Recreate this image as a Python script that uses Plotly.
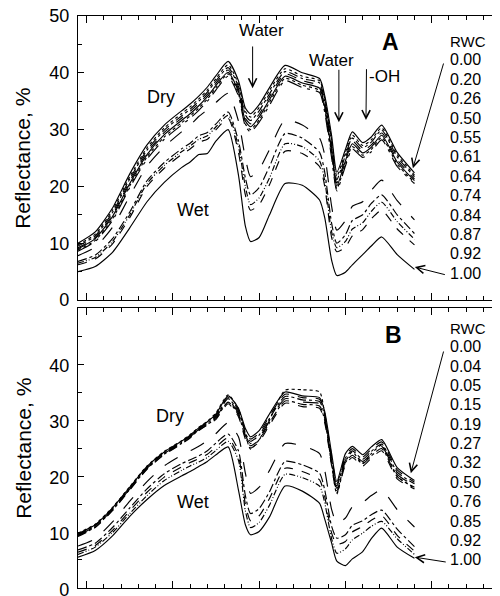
import plotly.graph_objects as go

# ---------------- data ----------------
wavelength_nm = [450, 550, 650, 750, 850, 950, 1050, 1100, 1150, 1200, 1250, 1320, 1380, 1420, 1450,
                 1500, 1560, 1650, 1750, 1850, 1880, 1920, 1950, 2000, 2040, 2100, 2150, 2210, 2300, 2400]

rwc_a_labels = ["0.00", "0.20", "0.26", "0.50", "0.55", "0.61", "0.64", "0.74", "0.84", "0.87", "0.92", "1.00"]
rwc_b_labels = ["0.00", "0.04", "0.05", "0.15", "0.19", "0.27", "0.32", "0.50", "0.76", "0.85", "0.92", "1.00"]

# Panel A reflectance (%)
a_000 = [10.0, 12.0, 16.2, 22.2, 27.3, 30.8, 33.3, 34.5, 35.9, 37.5, 39.5, 42.0, 38.6, 33.8, 32.8, 34.4, 37.4, 41.3, 40.0, 39.0, 36.0, 28.9, 22.5, 26.5, 29.6, 27.7, 28.7, 30.8, 26.0, 22.4]
a_020 = [9.7, 11.6, 15.8, 21.7, 26.8, 30.3, 32.8, 34.0, 35.4, 37.0, 39.0, 41.4, 38.0, 33.2, 32.2, 33.9, 36.9, 40.7, 39.4, 38.6, 35.5, 28.2, 21.8, 26.0, 29.0, 27.2, 28.2, 30.3, 25.6, 22.0]
a_026 = [9.5, 11.3, 15.4, 21.3, 26.4, 29.9, 32.4, 33.6, 35.0, 36.6, 38.6, 40.9, 37.6, 32.6, 31.6, 33.3, 36.3, 40.2, 39.0, 38.2, 35.0, 27.5, 21.2, 25.5, 28.5, 26.8, 27.8, 29.9, 25.2, 21.7]
a_050 = [9.2, 11.0, 15.0, 20.9, 26.0, 29.5, 32.0, 33.2, 34.6, 36.2, 38.2, 40.5, 37.1, 32.0, 31.0, 32.7, 35.8, 39.8, 38.6, 37.7, 34.5, 26.8, 20.6, 25.0, 28.0, 26.3, 27.3, 29.4, 24.7, 21.3]
a_055 = [9.0, 10.8, 14.7, 20.5, 25.6, 29.1, 31.6, 32.8, 34.2, 35.8, 37.8, 40.1, 36.7, 31.5, 30.5, 32.2, 35.3, 39.4, 38.2, 37.3, 34.0, 26.2, 20.1, 24.5, 27.5, 25.9, 26.9, 29.0, 24.3, 21.0]
a_061 = [8.8, 10.5, 14.3, 20.1, 25.2, 28.7, 31.2, 32.4, 33.8, 35.4, 37.4, 39.8, 36.3, 31.0, 30.0, 31.7, 34.8, 39.0, 37.8, 36.9, 33.5, 25.6, 19.6, 24.0, 27.0, 25.5, 26.5, 28.6, 23.9, 20.7]
a_064 = [8.6, 10.3, 14.0, 19.8, 24.8, 28.3, 30.8, 32.0, 33.4, 35.0, 37.0, 39.4, 35.9, 30.6, 29.6, 31.3, 34.3, 38.6, 37.4, 36.5, 33.0, 25.0, 19.2, 23.6, 26.6, 25.1, 26.1, 28.2, 23.5, 20.5]
a_074 = [7.8, 9.3, 12.8, 18.3, 23.6, 27.0, 29.6, 30.8, 32.3, 33.5, 34.8, 36.4, 31.5, 25.0, 21.7, 23.0, 26.5, 31.7, 30.8, 28.5, 25.5, 16.5, 12.3, 14.0, 16.5, 17.3, 19.3, 21.1, 17.5, 14.1]
a_084 = [6.8, 7.9, 10.8, 15.5, 21.0, 24.2, 26.6, 27.6, 28.9, 29.5, 31.0, 33.1, 28.0, 21.5, 18.5, 19.8, 23.5, 29.3, 28.5, 26.0, 22.5, 13.5, 10.0, 11.5, 14.0, 15.0, 17.0, 18.5, 15.0, 11.7]
a_087 = [6.5, 7.5, 10.3, 15.0, 20.5, 23.7, 26.1, 27.1, 28.3, 28.9, 30.5, 32.5, 27.0, 20.0, 16.8, 18.0, 21.5, 27.5, 27.0, 24.5, 21.0, 12.0, 9.2, 10.3, 12.5, 13.6, 15.6, 17.2, 13.8, 10.7]
a_092 = [6.2, 7.2, 9.9, 14.5, 20.0, 23.2, 25.6, 26.6, 27.8, 28.3, 30.0, 32.0, 26.0, 18.5, 15.8, 16.8, 20.3, 26.2, 25.8, 23.5, 20.0, 11.0, 8.5, 9.3, 11.3, 12.4, 14.3, 15.8, 12.5, 9.7]
a_100 = [5.0, 5.9, 8.4, 12.7, 17.3, 20.7, 23.3, 24.3, 25.6, 25.8, 28.0, 30.0, 22.0, 13.0, 10.3, 11.0, 15.0, 20.5, 20.2, 17.6, 14.5, 7.0, 4.3, 4.9, 6.2, 8.0, 9.5, 11.1, 8.0, 5.4]

# Panel B reflectance (%)
b_000 = [9.7, 11.3, 14.3, 18.0, 21.7, 24.3, 26.2, 27.3, 28.6, 29.7, 31.1, 34.3, 32.1, 28.5, 27.0, 28.1, 31.1, 35.0, 34.3, 34.0, 31.5, 24.0, 19.0, 24.0, 25.3, 23.8, 25.2, 26.5, 21.5, 19.2]
b_004 = [9.6, 11.2, 14.2, 17.9, 21.6, 24.2, 26.1, 27.2, 28.5, 29.5, 30.9, 34.0, 31.8, 28.1, 26.6, 27.7, 30.7, 34.6, 34.0, 33.7, 31.1, 23.5, 18.6, 23.6, 24.9, 23.4, 24.8, 26.1, 21.1, 18.9]
b_005 = [9.5, 11.1, 14.1, 17.8, 21.5, 24.1, 26.0, 27.1, 28.4, 29.4, 30.7, 33.8, 31.5, 27.7, 26.2, 27.3, 30.3, 34.2, 33.6, 33.3, 30.7, 23.0, 18.2, 23.2, 24.5, 23.0, 24.4, 25.7, 20.7, 18.6]
b_015 = [9.8, 11.4, 14.4, 18.1, 21.8, 24.4, 26.3, 27.4, 28.7, 29.8, 31.3, 34.5, 32.0, 27.5, 24.8, 26.5, 30.0, 35.3, 35.4, 35.0, 31.0, 22.0, 16.8, 22.5, 24.3, 22.3, 24.0, 25.5, 20.0, 17.8]
b_019 = [9.4, 11.0, 14.0, 17.7, 21.4, 24.0, 25.9, 27.0, 28.3, 29.3, 30.5, 33.5, 31.2, 27.3, 25.8, 26.9, 29.9, 33.8, 33.2, 32.9, 30.3, 22.6, 17.8, 22.8, 24.1, 22.6, 24.0, 25.3, 20.3, 18.3]
b_027 = [9.3, 10.9, 13.9, 17.6, 21.3, 23.9, 25.8, 26.9, 28.2, 29.2, 30.3, 33.2, 30.9, 27.0, 25.4, 26.5, 29.5, 33.4, 32.8, 32.5, 29.9, 22.2, 17.4, 22.4, 23.7, 22.2, 23.6, 24.9, 19.9, 18.0]
b_032 = [9.2, 10.8, 13.8, 17.5, 21.2, 23.8, 25.7, 26.8, 28.1, 29.1, 30.1, 32.9, 30.6, 26.6, 25.0, 26.1, 29.1, 33.0, 32.4, 32.1, 29.5, 21.8, 17.0, 22.0, 23.3, 21.8, 23.2, 24.5, 19.5, 17.7]
b_050 = [7.5, 8.8, 11.8, 15.5, 19.0, 21.8, 23.7, 24.5, 25.3, 26.3, 27.6, 29.5, 27.0, 20.5, 16.9, 18.0, 21.0, 25.8, 25.4, 24.0, 21.0, 14.0, 11.6, 12.5, 14.5, 15.3, 16.5, 17.5, 14.0, 10.9]
b_076 = [6.8, 8.0, 10.8, 14.3, 17.7, 20.4, 22.2, 22.9, 23.6, 24.5, 25.9, 27.5, 24.5, 16.5, 13.3, 14.2, 17.2, 22.6, 22.0, 20.5, 17.5, 11.0, 8.9, 9.5, 11.2, 12.0, 13.1, 13.9, 10.5, 7.4]
b_085 = [6.4, 7.6, 10.3, 13.8, 17.1, 19.8, 21.6, 22.4, 23.1, 23.9, 25.2, 26.8, 23.6, 15.0, 12.0, 12.9, 16.0, 21.4, 20.8, 19.3, 16.3, 9.8, 7.8, 8.3, 10.0, 11.0, 12.1, 12.9, 9.4, 6.6]
b_092 = [6.0, 7.3, 9.9, 13.3, 16.5, 19.2, 21.0, 21.8, 22.5, 23.3, 24.6, 26.2, 22.8, 13.8, 10.8, 11.7, 14.8, 20.3, 19.7, 18.2, 15.2, 8.8, 6.2, 7.0, 8.6, 9.8, 11.0, 11.9, 8.8, 6.0]
b_100 = [5.5, 6.7, 9.3, 12.8, 15.8, 18.3, 20.0, 20.8, 21.7, 22.6, 23.8, 25.2, 17.5, 11.3, 9.5, 10.1, 12.7, 18.2, 17.3, 15.1, 12.3, 8.0, 4.8, 4.0, 5.2, 6.5, 8.8, 10.7, 7.3, 5.3]

panel_a = [a_000, a_020, a_026, a_050, a_055, a_061, a_064, a_074, a_084, a_087, a_092, a_100]
panel_b = [b_000, b_004, b_005, b_015, b_019, b_027, b_032, b_050, b_076, b_085, b_092, b_100]

y_tick_a = [0, 10, 20, 30, 40, 50]
y_tick_b = [0, 10, 20, 30, 40]

# ---------------- styles ----------------
DDD = "6px,2px,1px,2px,1px,2px"
dash_a = ["solid", "dot", "dashdot", "dash", "solid", "dot", "longdashdot",
          "longdash", "dashdot", DDD, "dash", "solid"]
dash_b = ["solid", "dash", "dashdot", "dot", "longdash", "dashdot", "dash",
          "longdash", "dashdot", "dash", DDD, "solid"]
FONT = "Arial, Liberation Sans, Helvetica, sans-serif"

fig = go.Figure()
for series, dashes, xa, ya, labels in [(panel_a, dash_a, "x", "y", rwc_a_labels),
                                       (panel_b, dash_b, "x2", "y2", rwc_b_labels)]:
    for vals, d, lab in zip(series, dashes, labels):
        fig.add_trace(go.Scatter(
            x=wavelength_nm, y=vals, mode="lines", name="RWC " + lab,
            line=dict(color="black", width=1.15, dash=d, shape="spline", smoothing=0.6),
            xaxis=xa, yaxis=ya, showlegend=False, hoverinfo="skip"))

xcommon = dict(range=[450, 2890], showticklabels=False, showgrid=False, zeroline=False,
               automargin=False,
               showline=True, linecolor="black", linewidth=1.3, mirror="ticks",
               ticks="inside", tickvals=[500, 1000, 1500, 2000, 2500], ticklen=7,
               tickcolor="black", tickwidth=1,
               minor=dict(ticks="inside", ticklen=4, dtick=100, tick0=0,
                          tickcolor="black", tickwidth=1, showgrid=False))
ycommon = dict(range=[0, 50], showgrid=False, zeroline=False, automargin=False,
               showline=True, linecolor="black", linewidth=1.3, mirror="ticks",
               ticks="inside", ticklen=6, tickcolor="black", tickwidth=1,
               tickfont=dict(family=FONT, size=18, color="black"),
               ticklabelstandoff=4, ticklabeloverflow="allow",
               minor=dict(ticks="inside", ticklen=4, dtick=5, tick0=0,
                          tickcolor="black", tickwidth=1, showgrid=False))

# The page body adds an 8 px offset, so the figure is 8 px smaller on each axis
fig.update_layout(
    template="none",
    width=492, height=588,
    margin=dict(l=70, r=1, t=8, b=8, autoexpand=False),
    paper_bgcolor="white", plot_bgcolor="white",
    xaxis=dict(anchor="y", domain=[0, 1], **xcommon),
    xaxis2=dict(anchor="y2", domain=[0, 1], **xcommon),
    yaxis=dict(anchor="x", domain=[0.5035, 1.0], tickvals=y_tick_a, **ycommon),
    yaxis2=dict(anchor="x2", domain=[0.0, 0.4895], tickvals=y_tick_b,
                ticklabelshift=2, **ycommon),
)

ann = []

def label(xref, yref, x, y, text, size=17, bold=False, xanchor="center"):
    t = "<b>%s</b>" % text if bold else text
    ann.append(dict(xref=xref, yref=yref, x=x, y=y, text=t, showarrow=False,
                    xanchor=xanchor, yanchor="middle", borderpad=0,
                    font=dict(family=FONT, size=size, color="black")))

def arrow(xref, yref, x, y, ax, ay, head=5):
    ann.append(dict(xref=xref, yref=yref, x=x, y=y, ax=ax, ay=ay,
                    axref=xref, ayref=yref, text="", showarrow=True,
                    arrowhead=head, arrowsize=1.6, arrowwidth=1, arrowcolor="black"))

# y-axis titles
for yd in ["y domain", "y2 domain"]:
    ann.append(dict(xref="paper", yref=yd, x=-0.131, y=0.5, text="Reflectance, %",
                    textangle=-90, showarrow=False, xanchor="center", yanchor="middle",
                    font=dict(family=FONT, size=21, color="black")))

# Panel A annotations
label("x", "y", 931, 35.7, "Dry", 18)
label("x", "y", 1116, 15.8, "Wet", 18)
label("x", "y", 1516, 47.5, "Water", 17)
arrow("x", "y", 1462, 37.3, 1462, 44.9)
label("x", "y", 1922, 42.1, "Water", 17)
arrow("x", "y", 1962, 31.3, 1962, 40.8)
label("x", "y", 2130, 39.4, "-OH", 17, xanchor="left")
arrow("x", "y", 2119, 31.7, 2122, 40.9)
label("x", "y", 2263, 45.4, "A", 23, bold=True)
label("x", "y", 2598, 45.5, "RWC", 15, xanchor="left")
for i, lab in enumerate(rwc_a_labels):
    label("x", "y", 2598, 42.3 - i * 3.42, lab, 16, xanchor="left")
arrow("x", "y", 2391, 23.2, 2571, 41.9)
arrow("x", "y", 2402, 5.8, 2585, 4.4)

# Panel B annotations
label("x2", "y2", 983, 30.7, "Dry", 18)
label("x2", "y2", 1116, 15.4, "Wet", 18)
label("x2", "y2", 2281, 45.2, "B", 23, bold=True)
label("x2", "y2", 2598, 46.4, "RWC", 15, xanchor="left")
for i, lab in enumerate(rwc_b_labels):
    label("x2", "y2", 2598, 43.1 - i * 3.46, lab, 16, xanchor="left")
arrow("x2", "y2", 2379, 20.5, 2571, 42.5)
arrow("x2", "y2", 2402, 5.5, 2590, 4.6)

fig.update_layout(annotations=ann)
fig.write_html("out.html")
